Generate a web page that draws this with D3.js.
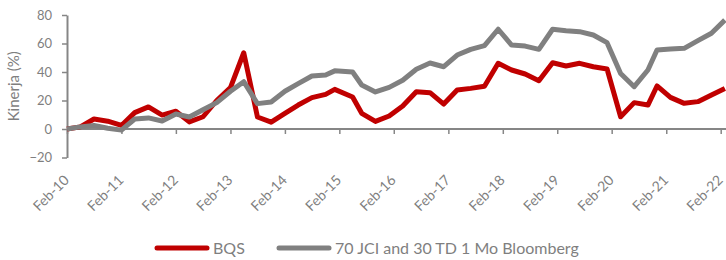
<!DOCTYPE html>
<html>
<head>
<meta charset="utf-8">
<script src="https://cdnjs.cloudflare.com/ajax/libs/d3/7.8.5/d3.min.js"></script>
<style>
  body { margin: 0; background: #fff; }
  svg { display: block; font-family: Lato, "Open Sans", sans-serif; }
</style>
</head>
<body>
<svg width="726" height="260"></svg>
<script>
'use strict';
// data (cumulative performance, %)
var dates = ["2010-02", "2010-05", "2010-08", "2010-11", "2011-02", "2011-05", "2011-08", "2011-11",
  "2012-02", "2012-05", "2012-08", "2012-11", "2013-02", "2013-05", "2013-08", "2013-11",
  "2014-02", "2014-05", "2014-08", "2014-11", "2015-01", "2015-05", "2015-07", "2015-10",
  "2016-01", "2016-04", "2016-07", "2016-10", "2017-01", "2017-04", "2017-07", "2017-10",
  "2018-01", "2018-04", "2018-07", "2018-10", "2019-01", "2019-04", "2019-07", "2019-10",
  "2020-01", "2020-04", "2020-07", "2020-10", "2020-12", "2021-03", "2021-06", "2021-09",
  "2021-12", "2022-03"];
var bqs = [0, 1.5, 7, 5.5, 2.5, 11.5, 15.5, 9.8,
  12.5, 5, 8.6, 20, 29, 53.5, 8.4, 4.8,
  11, 16.8, 22, 24.3, 27.8, 22.5, 11, 5.3,
  9.1, 16.1, 26.2, 25.5, 17.5, 27.4, 28.5, 30,
  46.1, 41.4, 38.6, 33.9, 46.5, 44.2, 46.1, 43.7,
  42.1, 8.6, 18.5, 16.8, 30.2, 22.2, 18, 19.2,
  23.9, 28.5];
var benchmark = [0, 1.5, 2.5, 0.5, -0.8, 7, 7.8, 5.6,
  10.5, 8.4, 13.5, 18.5, 26.5, 33.2, 17.8, 19,
  26.5, 31.8, 37.2, 37.9, 40.8, 40, 30.9, 26,
  29.2, 34.2, 41.9, 46.3, 43.7, 51.9, 55.9, 58.5,
  70, 58.9, 58.2, 55.9, 70, 69, 68.3, 66,
  60.6, 39, 29.7, 41.4, 55.4, 56.1, 56.6, 62,
  67.2, 76.5];
var seriesNames = ["BQS", "70 JCI and 30 TD 1 Mo Bloomberg"];
var seriesColors = ["#c00000", "#808080"];
var yTicks = [-20, 0, 20, 40, 60, 80];
var xTicks = ["2010-02", "2011-02", "2012-02", "2013-02", "2014-02", "2015-02", "2016-02",
  "2017-02", "2018-02", "2019-02", "2020-02", "2021-02", "2022-02"];

var parse = d3.utcParse("%Y-%m");
var svg = d3.select("svg");
var width = +svg.attr("width");
var axisColor = "#868686";
var textColor = "#7f7f7f";

var x = d3.scaleUtc()
  .domain([parse(xTicks[0]), parse(xTicks[xTicks.length - 1])])
  .range([67, 720.7]);
var y = d3.scaleLinear().domain([-20, 80]).range([157.5, 15]);

// y axis
var yAxis = svg.append("g")
  .attr("transform", "translate(67,0)")
  .call(d3.axisLeft(y).tickValues(yTicks).tickSize(5).tickSizeOuter(0).tickPadding(10));
yAxis.select(".domain").attr("stroke", axisColor).attr("stroke-width", 2);
yAxis.selectAll(".tick line").attr("stroke", axisColor).attr("stroke-width", 1.5);
yAxis.selectAll(".tick text")
  .attr("fill", textColor)
  .style("font-size", "13px")
  .style("font-family", "Lato, sans-serif");

svg.append("text")
  .attr("transform", "translate(19," + y(30) + ") rotate(-90)")
  .attr("text-anchor", "middle")
  .attr("fill", textColor)
  .style("font-size", "15px")
  .text("Kinerja (%)");

// x axis at zero
var xAxis = svg.append("g")
  .attr("transform", "translate(0," + y(0) + ")")
  .call(d3.axisBottom(x).tickValues(xTicks.map(parse)).tickSize(5).tickSizeOuter(0).tickFormat(""));
xAxis.select(".domain").remove();
xAxis.selectAll(".tick line").attr("stroke", axisColor).attr("stroke-width", 1.5);
xAxis.append("line")
  .attr("x1", x.range()[0])
  .attr("x2", width)
  .attr("stroke", axisColor)
  .attr("stroke-width", 2);

svg.append("g").selectAll("text")
  .data(xTicks)
  .enter().append("text")
  .attr("transform", function(d) {
    return "translate(" + (x(parse(d)) + 3) + ",181) rotate(-45)";
  })
  .attr("text-anchor", "end")
  .attr("fill", textColor)
  .style("font-size", "14px")
  .text(function(d) {
    return d3.utcFormat("%b-%y")(parse(d));
  });

// lines
var line = d3.line()
  .x(function(d, i) { return x(parse(dates[i])); })
  .y(function(d) { return y(d); });

[bqs, benchmark].forEach(function(values, k) {
  svg.append("path")
    .datum(values)
    .attr("d", line)
    .attr("fill", "none")
    .attr("stroke", seriesColors[k])
    .attr("stroke-width", 5)
    .attr("stroke-linejoin", "round");
});

// legend
var legendX = [155, 277];
var legend = svg.append("g").selectAll("g")
  .data(seriesNames)
  .enter().append("g")
  .attr("transform", function(d, i) {
    return "translate(" + legendX[i] + ",248)";
  });
legend.append("line")
  .attr("x1", 2)
  .attr("x2", 52)
  .attr("stroke", function(d, i) { return seriesColors[i]; })
  .attr("stroke-width", 5)
  .attr("stroke-linecap", "round");
legend.append("text")
  .attr("x", 58)
  .attr("dy", "0.35em")
  .attr("fill", textColor)
  .style("font-size", "16px")
  .text(function(d) { return d; });
</script>
</body>
</html>
